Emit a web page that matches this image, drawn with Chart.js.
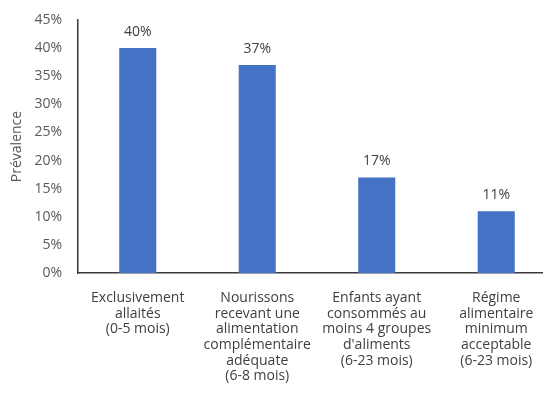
<!DOCTYPE html>
<html>
<head>
<meta charset="utf-8">
<script src="https://cdn.jsdelivr.net/npm/chart.js@4/dist/chart.umd.min.js"></script>
<style>
  html, body { margin: 0; padding: 0; background: #fff; overflow: hidden; }
  #wrap { width: 556px; height: 405px; }
</style>
</head>
<body>
<div id="wrap"><canvas id="c" width="556" height="405"></canvas></div>
<script>
// Indicator groups (multi-line labels)
const categories = [
  ["Exclusivement", "allaités", "(0-5 mois)"],
  ["Nourissons", "recevant une", "alimentation", "complémentaire", "adéquate", "(6-8 mois)"],
  ["Enfants ayant", "consommés au", "moins 4 groupes", "d'aliments", "(6-23 mois)"],
  ["Régime", "alimentaire", "minimum", "acceptable", "(6-23 mois)"]
];
// Prevalence in percent
const prevalence = [40, 37, 17, 11];
const yTitle = "Prévalence";

const FONT = "'Open Sans', 'Noto Sans', sans-serif";

// Writes the value above each bar
const valueLabels = {
  id: 'valueLabels',
  afterDatasetsDraw(chart) {
    const ctx = chart.ctx;
    const meta = chart.getDatasetMeta(0);
    ctx.save();
    ctx.font = "14px " + FONT;
    ctx.fillStyle = "#404040";
    ctx.textAlign = "center";
    ctx.textBaseline = "middle";
    meta.data.forEach((bar, i) => {
      ctx.fillText(prevalence[i] + "%", bar.x, bar.y - 16);
    });
    ctx.restore();
  }
};

new Chart(document.getElementById('c'), {
  type: 'bar',
  data: {
    labels: categories,
    datasets: [{
      data: prevalence,
      backgroundColor: '#4472C4',
      borderWidth: 0,
      barPercentage: 0.62,
      categoryPercentage: 0.5
    }]
  },
  options: {
    responsive: false,
    animation: false,
    layout: { padding: { top: 20, left: 0, right: 0, bottom: 0 } },
    plugins: { legend: { display: false }, tooltip: { enabled: false } },
    scales: {
      x: {
        grid: { display: false, drawTicks: false },
        border: { display: true, color: '#3a3a3a', width: 1.5 },
        ticks: {
          color: '#404040',
          font: { family: FONT, size: 14, lineHeight: 1.12 },
          padding: 17,
          maxRotation: 0,
          autoSkip: false
        },
        afterFit(scale) { scale.height = 132; scale.paddingLeft = 0; scale.paddingRight = 0; }
      },
      y: {
        min: 0,
        max: 45,
        grid: { display: false, drawTicks: false },
        border: { display: true, color: '#3a3a3a', width: 1.5 },
        ticks: {
          stepSize: 5,
          color: '#595959',
          font: { family: FONT, size: 14 },
          padding: 16,
          callback: v => v + '%'
        },
        title: {
          display: true,
          text: yTitle,
          color: '#595959',
          font: { family: FONT, size: 14 },
          padding: { top: 9, bottom: 4 }
        },
        afterFit(scale) { scale.width = 78; scale.paddingTop = 0; scale.paddingBottom = 0; }
      }
    }
  },
  plugins: [valueLabels]
});
</script>
</body>
</html>
